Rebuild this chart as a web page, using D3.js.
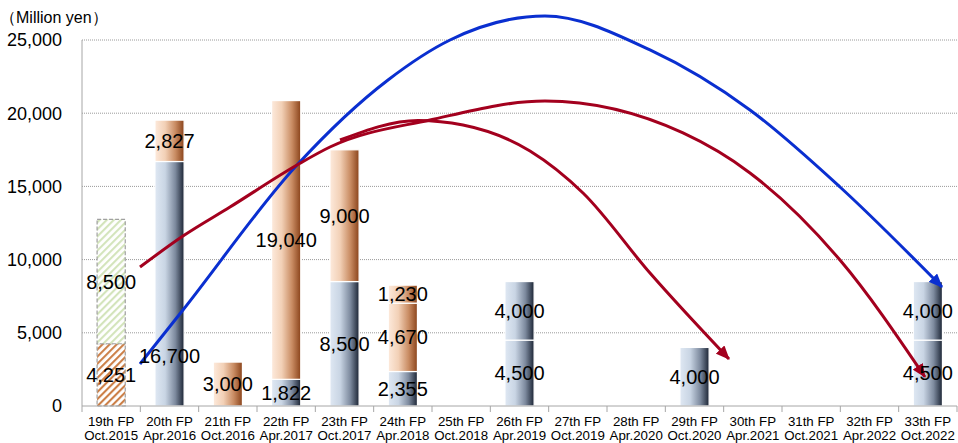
<!DOCTYPE html>
<html><head><meta charset="utf-8">
<script src="https://cdn.jsdelivr.net/npm/d3@7"></script>
<style>
html,body{margin:0;padding:0;background:#fff;}
svg{display:block;font-family:"Liberation Sans",Arial,sans-serif;}
</style></head>
<body>
<svg id="chart" width="958" height="443"></svg>
<script>
// ---- data ----
const periods = ["19th FP","20th FP","21th FP","22th FP","23th FP","24th FP","25th FP","26th FP","27th FP","28th FP","29th FP","30th FP","31th FP","32th FP","33th FP"];
const dates   = ["Oct.2015","Apr.2016","Oct.2016","Apr.2017","Oct.2017","Apr.2018","Oct.2018","Apr.2019","Oct.2019","Apr.2020","Oct.2020","Apr.2021","Oct.2021","Apr.2022","Oct.2022"];
const hatchLow  = [4251,0,0,0,0,0,0,0,0,0,0,0,0,0,0];
const hatchHigh = [8500,0,0,0,0,0,0,0,0,0,0,0,0,0,0];
const blueLow   = [0,16700,0,1822,8500,2355,0,4500,0,0,4000,0,0,0,4500];
const blueHigh  = [0,0,0,0,0,0,0,4000,0,0,0,0,0,0,4000];
const brownA    = [0,2827,3000,19040,9000,4670,0,0,0,0,0,0,0,0,0];
const brownB    = [0,0,0,0,0,1230,0,0,0,0,0,0,0,0,0];
const yTicks = [0,5000,10000,15000,20000,25000];
const yUnit = "（Million yen）";
// label anchor overrides (value units)
const labelAnchor = [{cat:1, key:"blueLow", at:3400}];
// arrow waypoints: [category units from left edge, value]
const blueArrow = [[0.994,2870],[1.731,6560],[3.686,16460],[5.246,22270],[6.309,25000],[7.937,26640],[9.737,24320],[11.451,20220],[12.994,14960],[14.743,8130]];
const redLongArrow = [[0.994,9490],[1.731,11610],[2.537,13590],[3.686,16460],[4.251,17690],[5.966,19540],[7.937,20830],[10.303,18650],[11.451,15920],[12.994,9970],[14.451,1980]];
const redShortArrow = [[4.423,18170],[5.76,19500],[6.531,19190],[7.680,17420],[8.589,14550],[9.737,9080],[11.091,3210]];

// ---- layout ----
const svg = d3.select("#chart");
const L=82, R=957, T=40, B=406;
const x = d3.scaleBand().domain(periods).range([L,R]).paddingInner(0.5).paddingOuter(0.25);
const xu = d3.scaleLinear().domain([0,periods.length]).range([L,R]);
const y = d3.scaleLinear().domain([0,25000]).range([B,T]);

const defs = svg.append("defs");
function grad(id, stops){
  const g = defs.append("linearGradient").attr("id",id).attr("x1","0%").attr("x2","100%").attr("y1","0%").attr("y2","0%");
  stops.forEach(s=>g.append("stop").attr("offset",s[0]).attr("stop-color",s[1]));
}
grad("gBlue",[["0%","#dfe8f3"],["35%","#c9d5e4"],["70%","#7d8a9e"],["100%","#1b2434"]]);
grad("gBrown",[["0%","#fdeadc"],["35%","#f2d0b6"],["70%","#c98c63"],["100%","#8a431a"]]);
function hatch(id, color){
  const p = defs.append("pattern").attr("id",id).attr("patternUnits","userSpaceOnUse")
    .attr("width",5).attr("height",5).attr("patternTransform","rotate(45)");
  p.append("rect").attr("width",5).attr("height",5).attr("fill","#fff");
  p.append("line").attr("x1",1).attr("y1",0).attr("x2",1).attr("y2",5).attr("stroke",color).attr("stroke-width",2.2);
}
hatch("hBrown","#cc8048");
hatch("hGreen","#d3e4bb");

// grid
svg.append("g").selectAll("line").data(yTicks.filter(d=>d>0)).join("line")
  .attr("x1",L).attr("x2",R).attr("y1",d=>y(d)).attr("y2",d=>y(d))
  .attr("stroke","#9a9a9a").attr("stroke-width",1).attr("stroke-dasharray","1,1");

// y labels
svg.append("g").selectAll("text").data(yTicks).join("text")
  .attr("x",62).attr("y",d=>y(d)).attr("dy","0.35em").attr("text-anchor","end")
  .attr("font-size",18).attr("fill","#000").text(d=>d3.format(",")(d));
svg.append("text").attr("x",0).attr("y",23).attr("font-size",16).attr("fill","#000").text(yUnit);

// bars
const keys = ["hatchLow","hatchHigh","blueLow","blueHigh","brownA","brownB"];
const series = {hatchLow,hatchHigh,blueLow,blueHigh,brownA,brownB};
const rows = periods.map((p,i)=>{const o={p,i}; keys.forEach(k=>o[k]=series[k][i]); return o;});
const stacked = d3.stack().keys(keys)(rows);
const fillFor = {hatchLow:"url(#hBrown)",hatchHigh:"url(#hGreen)",blueLow:"url(#gBlue)",blueHigh:"url(#gBlue)",brownA:"url(#gBrown)",brownB:"url(#gBrown)"};
const gBars = svg.append("g");
stacked.forEach(s=>{
  const isH = s.key.startsWith("hatch");
  gBars.selectAll(null).data(s.filter(d=>d[1]>d[0])).join("rect")
    .attr("x",d=>x(d.data.p)+(isH?0.5:0)).attr("width",x.bandwidth()-(isH?1:0))
    .attr("y",d=>y(d[1])).attr("height",d=>y(d[0])-y(d[1]))
    .attr("fill",fillFor[s.key])
    .attr("stroke",isH?"#a0a0a0":"#fff").attr("stroke-width",1.2)
    .attr("stroke-dasharray",isH?"4,2":null);
});

// axes lines
svg.append("line").attr("x1",L).attr("x2",L).attr("y1",T).attr("y2",B).attr("stroke","#a6a6a6");
svg.append("line").attr("x1",L).attr("x2",R).attr("y1",B).attr("y2",B).attr("stroke","#a6a6a6");
svg.append("g").selectAll("line").data(d3.range(periods.length+1)).join("line")
  .attr("x1",d=>xu(d)).attr("x2",d=>xu(d)).attr("y1",B).attr("y2",B+6).attr("stroke","#a6a6a6");
const xl = svg.append("g").selectAll("text").data(periods).join("text")
  .attr("x",d=>x(d)+x.bandwidth()/2).attr("text-anchor","middle").attr("font-size",13.3).attr("fill","#000");
xl.append("tspan").attr("x",d=>x(d)+x.bandwidth()/2).attr("y",426).text(d=>d);
xl.append("tspan").attr("x",d=>x(d)+x.bandwidth()/2).attr("y",440).text((d,i)=>dates[i]);

// arrows
const arrows = [
  {color:"#0a2fd0", pts:blueArrow},
  {color:"#a3001e", pts:redLongArrow},
  {color:"#a3001e", pts:redShortArrow}
];
const line = d3.line().x(d=>xu(d[0])).y(d=>y(d[1])).curve(d3.curveMonotoneX);
arrows.forEach((a,k)=>{
  const id="ah"+k;
  defs.append("marker").attr("id",id).attr("viewBox","0 -6 14 12").attr("refX",13).attr("refY",0)
    .attr("markerWidth",14).attr("markerHeight",12).attr("markerUnits","userSpaceOnUse").attr("orient","auto")
    .append("path").attr("d","M0,-6L14,0L0,6Z").attr("fill",a.color);
  svg.append("path").attr("d",line(a.pts)).attr("fill","none").attr("stroke",a.color)
    .attr("stroke-width",3).attr("stroke-linejoin","round").attr("marker-end",`url(#${id})`);
});

// labels
const gLab = svg.append("g");
stacked.forEach(s=>{
  s.filter(d=>d[1]>d[0]).forEach(d=>{
    const ov = labelAnchor.find(o=>o.cat===d.data.i && o.key===s.key);
    const v = ov ? ov.at : (d[0]+d[1])/2;
    gLab.append("text").attr("x",x(d.data.p)+x.bandwidth()/2).attr("y",y(v)).attr("dy","0.35em")
      .attr("text-anchor","middle").attr("font-size",20).attr("fill","#000")
      .text(d3.format(",")(d[1]-d[0]));
  });
});
</script>
</body></html>
